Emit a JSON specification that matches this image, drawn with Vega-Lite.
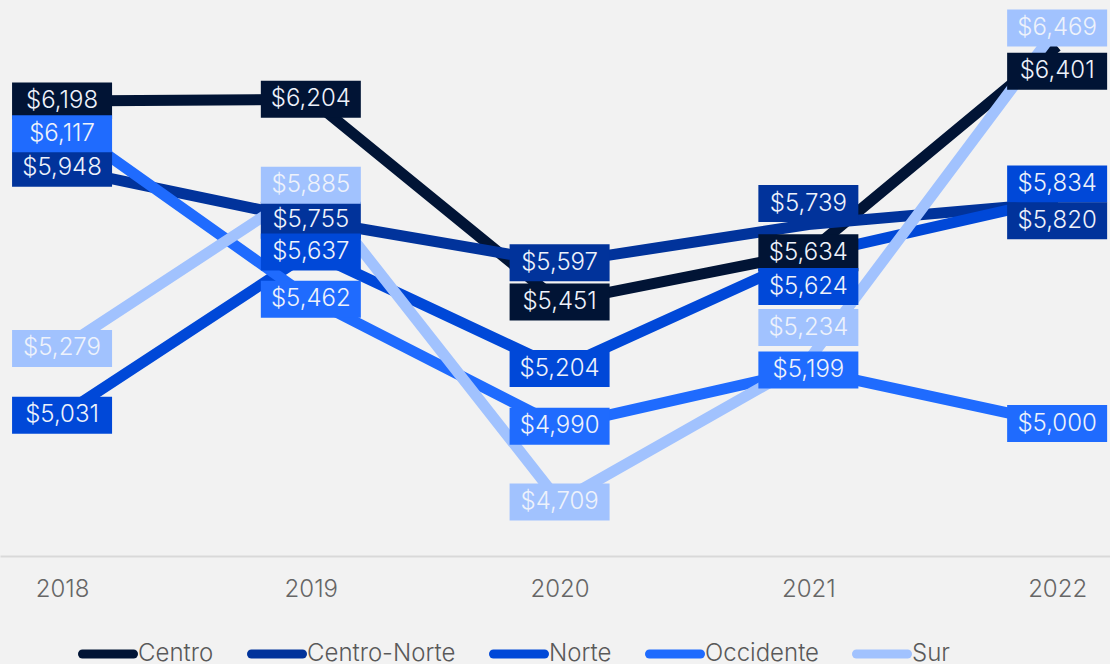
{
  "$schema": "https://vega.github.io/schema/vega-lite/v6.json",
  "width": 1110,
  "height": 556,
  "autosize": {"type": "none"},
  "padding": {"top": 0, "left": 0, "right": 0, "bottom": 108},
  "background": "#f2f2f2",
  "config": {
    "view": {"stroke": null},
    "font": "Inter"
  },
  "data": {
    "values": [
      {"year": "2018", "region": "Centro", "value": 6198},
      {"year": "2019", "region": "Centro", "value": 6204},
      {"year": "2020", "region": "Centro", "value": 5451},
      {"year": "2021", "region": "Centro", "value": 5634},
      {"year": "2022", "region": "Centro", "value": 6401},
      {"year": "2018", "region": "Centro-Norte", "value": 5948},
      {"year": "2019", "region": "Centro-Norte", "value": 5755},
      {"year": "2020", "region": "Centro-Norte", "value": 5597},
      {"year": "2021", "region": "Centro-Norte", "value": 5739},
      {"year": "2022", "region": "Centro-Norte", "value": 5820},
      {"year": "2018", "region": "Norte", "value": 5031},
      {"year": "2019", "region": "Norte", "value": 5637},
      {"year": "2020", "region": "Norte", "value": 5204},
      {"year": "2021", "region": "Norte", "value": 5624},
      {"year": "2022", "region": "Norte", "value": 5834},
      {"year": "2018", "region": "Occidente", "value": 6117},
      {"year": "2019", "region": "Occidente", "value": 5462},
      {"year": "2020", "region": "Occidente", "value": 4990},
      {"year": "2021", "region": "Occidente", "value": 5199},
      {"year": "2022", "region": "Occidente", "value": 5000},
      {"year": "2018", "region": "Sur", "value": 5279},
      {"year": "2019", "region": "Sur", "value": 5885},
      {"year": "2020", "region": "Sur", "value": 4709},
      {"year": "2021", "region": "Sur", "value": 5234},
      {"year": "2022", "region": "Sur", "value": 6469}
    ]
  },
  "encoding": {
    "x": {
      "field": "year",
      "type": "ordinal",
      "scale": {"type": "point", "padding": 0.231, "align": 0.54},
      "axis": {
        "title": null,
        "labelAngle": 0,
        "labelFontSize": 24,
        "labelFontWeight": 300,
        "labelColor": "#666666",
        "labelFont": "Inter",
        "labelPadding": 21,
        "ticks": false,
        "grid": false,
        "domainColor": "#d9d9d9",
        "domainWidth": 2
      }
    },
    "y": {
      "field": "value",
      "type": "quantitative",
      "scale": {"domain": [4508, 6573], "nice": false, "zero": false},
      "axis": null
    },
    "color": {
      "field": "region",
      "type": "nominal",
      "scale": {
        "domain": ["Centro", "Centro-Norte", "Norte", "Occidente", "Sur"],
        "range": ["#011435", "#01339b", "#0048d8", "#1f6bfe", "#a1c2fe"]
      },
      "legend": {
        "title": null,
        "orient": "none",
        "direction": "horizontal",
        "legendX": 78,
        "legendY": 624,
        "symbolType": "stroke",
        "symbolSize": 2601,
        "symbolStrokeWidth": 9,
        "labelFontSize": 24,
        "labelFontWeight": 300,
        "labelColor": "#595959",
        "labelFont": "Inter",
        "labelOffset": 0,
        "columnPadding": 19,
        "encode": {"symbols": {"update": {"strokeCap": {"value": "round"}}}}
      }
    }
  },
  "layer": [
    {
      "mark": {"type": "line", "strokeWidth": 11}
    },
    {
      "transform": [{"filter": {"not": {"field": "value", "oneOf": [5234, 5624, 5739, 5820, 5834, 6117, 6401]}}}],
      "layer": [
        {"mark": {"type": "point", "shape": "M-1,-0.37L1,-0.37L1,0.37L-1,0.37Z", "size": 10000, "filled": true, "opacity": 1, "strokeWidth": 0}},
        {"mark": {"type": "text", "fontSize": 24, "fontWeight": 300, "font": "Inter", "align": "center", "baseline": "middle"}, "encoding": {"color": {"value": "#eef2fb"}, "text": {"field": "value", "type": "quantitative", "format": "$,.0f"}}}
      ]
    },
    {
      "transform": [{"filter": {"field": "value", "equal": 6117}}],
      "encoding": {"yOffset": {"value": 11}},
      "layer": [
        {"mark": {"type": "point", "shape": "M-1,-0.37L1,-0.37L1,0.37L-1,0.37Z", "size": 10000, "filled": true, "opacity": 1, "strokeWidth": 0}},
        {"mark": {"type": "text", "fontSize": 24, "fontWeight": 300, "font": "Inter", "align": "center", "baseline": "middle"}, "encoding": {"color": {"value": "#eef2fb"}, "text": {"field": "value", "type": "quantitative", "format": "$,.0f"}}}
      ]
    },
    {
      "transform": [{"filter": {"field": "value", "equal": 5739}}],
      "encoding": {"yOffset": {"value": -21}},
      "layer": [
        {"mark": {"type": "point", "shape": "M-1,-0.37L1,-0.37L1,0.37L-1,0.37Z", "size": 10000, "filled": true, "opacity": 1, "strokeWidth": 0}},
        {"mark": {"type": "text", "fontSize": 24, "fontWeight": 300, "font": "Inter", "align": "center", "baseline": "middle"}, "encoding": {"color": {"value": "#eef2fb"}, "text": {"field": "value", "type": "quantitative", "format": "$,.0f"}}}
      ]
    },
    {
      "transform": [{"filter": {"field": "value", "equal": 5624}}],
      "encoding": {"yOffset": {"value": 31}},
      "layer": [
        {"mark": {"type": "point", "shape": "M-1,-0.37L1,-0.37L1,0.37L-1,0.37Z", "size": 10000, "filled": true, "opacity": 1, "strokeWidth": 0}},
        {"mark": {"type": "text", "fontSize": 24, "fontWeight": 300, "font": "Inter", "align": "center", "baseline": "middle"}, "encoding": {"color": {"value": "#eef2fb"}, "text": {"field": "value", "type": "quantitative", "format": "$,.0f"}}}
      ]
    },
    {
      "transform": [{"filter": {"field": "value", "equal": 5234}}],
      "encoding": {"yOffset": {"value": -33}},
      "layer": [
        {"mark": {"type": "point", "shape": "M-1,-0.37L1,-0.37L1,0.37L-1,0.37Z", "size": 10000, "filled": true, "opacity": 1, "strokeWidth": 0}},
        {"mark": {"type": "text", "fontSize": 24, "fontWeight": 300, "font": "Inter", "align": "center", "baseline": "middle"}, "encoding": {"color": {"value": "#eef2fb"}, "text": {"field": "value", "type": "quantitative", "format": "$,.0f"}}}
      ]
    },
    {
      "transform": [{"filter": {"field": "value", "equal": 6401}}],
      "encoding": {"yOffset": {"value": 25}},
      "layer": [
        {"mark": {"type": "point", "shape": "M-1,-0.37L1,-0.37L1,0.37L-1,0.37Z", "size": 10000, "filled": true, "opacity": 1, "strokeWidth": 0}},
        {"mark": {"type": "text", "fontSize": 24, "fontWeight": 300, "font": "Inter", "align": "center", "baseline": "middle"}, "encoding": {"color": {"value": "#eef2fb"}, "text": {"field": "value", "type": "quantitative", "format": "$,.0f"}}}
      ]
    },
    {
      "transform": [{"filter": {"field": "value", "equal": 5834}}],
      "encoding": {"yOffset": {"value": -15}},
      "layer": [
        {"mark": {"type": "point", "shape": "M-1,-0.37L1,-0.37L1,0.37L-1,0.37Z", "size": 10000, "filled": true, "opacity": 1, "strokeWidth": 0}},
        {"mark": {"type": "text", "fontSize": 24, "fontWeight": 300, "font": "Inter", "align": "center", "baseline": "middle"}, "encoding": {"color": {"value": "#eef2fb"}, "text": {"field": "value", "type": "quantitative", "format": "$,.0f"}}}
      ]
    },
    {
      "transform": [{"filter": {"field": "value", "equal": 5820}}],
      "encoding": {"yOffset": {"value": 18}},
      "layer": [
        {"mark": {"type": "point", "shape": "M-1,-0.37L1,-0.37L1,0.37L-1,0.37Z", "size": 10000, "filled": true, "opacity": 1, "strokeWidth": 0}},
        {"mark": {"type": "text", "fontSize": 24, "fontWeight": 300, "font": "Inter", "align": "center", "baseline": "middle"}, "encoding": {"color": {"value": "#eef2fb"}, "text": {"field": "value", "type": "quantitative", "format": "$,.0f"}}}
      ]
    }
  ]
}
